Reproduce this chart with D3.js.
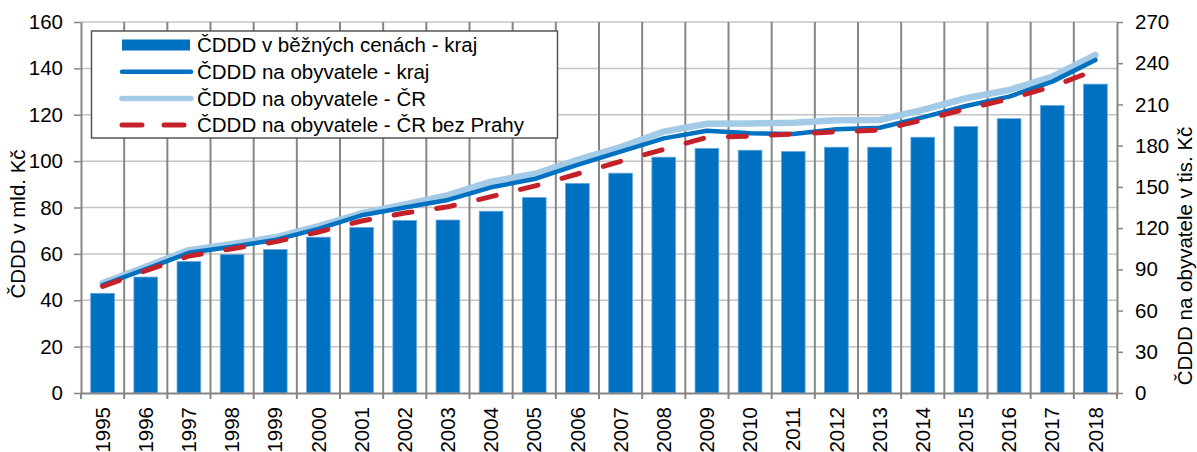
<!DOCTYPE html>
<html>
<head>
<meta charset="utf-8">
<script src="https://cdn.jsdelivr.net/npm/d3@7"></script>
<style>
  body { margin: 0; background: #fff; }
  svg { font-family: "Liberation Sans", Arial, sans-serif; }
</style>
</head>
<body>
<div class="chart"></div>
<script>
const years = [1995, 1996, 1997, 1998, 1999, 2000, 2001, 2002, 2003, 2004, 2005, 2006,
  2007, 2008, 2009, 2010, 2011, 2012, 2013, 2014, 2015, 2016, 2017, 2018];

// ČDDD v běžných cenách - kraj (mld. Kč)
const krajTotal = [43, 50, 56.7, 59.8, 61.9, 67.2, 71.4, 74.4, 74.6, 78.4, 84.3, 90.4,
  94.8, 101.7, 105.5, 104.7, 104.2, 106, 106, 110.3, 114.9, 118.3, 124, 133.2];

// na obyvatele (tis. Kč)
const krajPerCap = [78.6, 90.2, 102, 106.5, 111.4, 119.4, 129.3, 135, 140.5, 149.7, 155.7, 166,
  175.6, 185.3, 190.9, 189, 188.5, 191.9, 193, 200.6, 208.9, 215.7, 226.6, 242.4];
const crPerCap = [80, 91.9, 104, 108.4, 113.3, 121.5, 130.8, 137.3, 144, 153.8, 159.4, 169.6,
  179, 190.2, 196, 196.2, 196.7, 198.5, 198.7, 206, 214.5, 220.5, 230.2, 246];
const crNoPraguePerCap = [77.5, 89, 99.7, 105, 110, 117.2, 125.2, 131, 135.5, 142.9, 150.6, 159.4,
  168.6, 177.3, 186, 187, 188.5, 190, 191.4, 198.7, 206.7, 214, 223, 235];

const leftTicks = [0, 20, 40, 60, 80, 100, 120, 140, 160];
const rightTicks = [0, 30, 60, 90, 120, 150, 180, 210, 240, 270];

const legendLabels = [
  "ČDDD v běžných cenách - kraj",
  "ČDDD na obyvatele - kraj",
  "ČDDD na obyvatele - ČR",
  "ČDDD na obyvatele - ČR bez Prahy"
];

const width = 1197;
const height = 452;
const plot = { left: 81, right: 1117, top: 22, bottom: 393 };
const fontSize = "20.5px";

const barColor = "#0070C0";
const lightColor = "#A3CBE8";
const redColor = "#C4212B";
const axisColor = "#868686";

const svg = d3.select(".chart").append("svg")
  .attr("width", width)
  .attr("height", height);

const xCat = d3.scaleBand().domain(years).range([plot.left, plot.right]).padding(0);
const xBar = d3.scaleBand().domain(years).range([plot.left, plot.right])
  .paddingInner(0.45).paddingOuter(0.225);
const yLeft = d3.scaleLinear().domain([0, 160]).range([plot.bottom, plot.top]);
const yRight = d3.scaleLinear().domain([0, 270]).range([plot.bottom, plot.top]);

// horizontal gridlines
svg.append("g")
  .selectAll("line")
  .data(leftTicks.filter(d => d > 0))
  .enter().append("line")
  .attr("x1", plot.left).attr("x2", plot.right)
  .attr("y1", d => yLeft(d)).attr("y2", d => yLeft(d))
  .attr("stroke", "#c4c4c4")
  .attr("stroke-width", 1.5);

// vertical gridlines between categories
svg.append("g")
  .selectAll("line")
  .data(years.slice(1))
  .enter().append("line")
  .attr("x1", d => xCat(d)).attr("x2", d => xCat(d))
  .attr("y1", plot.top).attr("y2", plot.bottom)
  .attr("stroke", axisColor)
  .attr("stroke-width", 2);

// bars
svg.append("g")
  .selectAll("rect")
  .data(years)
  .enter().append("rect")
  .attr("x", d => xBar(d))
  .attr("width", xBar.bandwidth())
  .attr("y", (d, i) => yLeft(krajTotal[i]))
  .attr("height", (d, i) => yLeft(0) - yLeft(krajTotal[i]))
  .attr("fill", barColor)
  .attr("stroke", "#6aa9dc")
  .attr("stroke-width", 0.8);

const cx = d => xCat(d) + xCat.bandwidth() / 2;
const line = d3.line()
  .x(d => cx(d.year))
  .y(d => yRight(d.value));
const toPoints = arr => years.map((y, i) => ({ year: y, value: arr[i] }));

svg.append("path")
  .attr("d", line(toPoints(crPerCap)))
  .attr("fill", "none")
  .attr("stroke", lightColor)
  .attr("stroke-width", 6.5)
  .attr("stroke-linecap", "round")
  .attr("stroke-linejoin", "round");

svg.append("path")
  .attr("d", line(toPoints(krajPerCap)))
  .attr("fill", "none")
  .attr("stroke", barColor)
  .attr("stroke-width", 4.5)
  .attr("stroke-linecap", "round")
  .attr("stroke-linejoin", "round");

svg.append("path")
  .attr("d", line(toPoints(crNoPraguePerCap)))
  .attr("fill", "none")
  .attr("stroke", redColor)
  .attr("stroke-width", 5)
  .attr("stroke-dasharray", "18,25")
  .attr("stroke-linecap", "round")
  .attr("stroke-linejoin", "round");

// axes
const styleAxis = g => {
  g.select(".domain").attr("stroke", axisColor).attr("stroke-width", 2);
  g.selectAll(".tick line").attr("stroke", axisColor).attr("stroke-width", 1.5);
  g.selectAll("text").attr("fill", "#000").style("font-size", fontSize);
};

svg.append("g")
  .attr("transform", `translate(${plot.left},0)`)
  .call(d3.axisLeft(yLeft).tickValues(leftTicks).tickSize(7).tickPadding(11).tickSizeOuter(0))
  .call(styleAxis);

svg.append("g")
  .attr("transform", `translate(${plot.right},0)`)
  .call(d3.axisRight(yRight).tickValues(rightTicks).tickSize(6).tickPadding(12).tickSizeOuter(0))
  .call(styleAxis);

const xAxis = svg.append("g")
  .attr("transform", `translate(0,${plot.bottom})`)
  .call(d3.axisBottom(xCat).tickSize(0).tickSizeOuter(0))
  .call(styleAxis);
xAxis.selectAll("text")
  .attr("transform", "rotate(-90)")
  .attr("x", -14)
  .attr("y", 0)
  .attr("dy", "0.35em")
  .style("text-anchor", "end");

// boundary ticks on the x axis
svg.append("g")
  .selectAll("line")
  .data(years.map(d => xCat(d)).concat([plot.right]))
  .enter().append("line")
  .attr("x1", d => d).attr("x2", d => d)
  .attr("y1", plot.bottom).attr("y2", plot.bottom + 6)
  .attr("stroke", axisColor)
  .attr("stroke-width", 2);

// axis titles
svg.append("text")
  .attr("transform", `translate(25,224) rotate(-90)`)
  .style("text-anchor", "middle")
  .style("font-size", fontSize)
  .text("ČDDD v mld. Kč");

svg.append("text")
  .attr("transform", `translate(1192,256) rotate(-90)`)
  .style("text-anchor", "middle")
  .style("font-size", fontSize)
  .text("ČDDD na obyvatele v tis. Kč");

// legend
const legend = svg.append("g");
legend.append("rect")
  .attr("x", 91.5).attr("y", 31)
  .attr("width", 466).attr("height", 107)
  .attr("fill", "#fff")
  .attr("stroke", "#555")
  .attr("stroke-width", 1.5);

const rowY = i => 45 + i * 26.7;
legend.append("rect")
  .attr("x", 122).attr("y", rowY(0) - 5.5)
  .attr("width", 68).attr("height", 11)
  .attr("fill", barColor);
legend.append("line")
  .attr("x1", 122).attr("x2", 191).attr("y1", rowY(1)).attr("y2", rowY(1))
  .attr("stroke", barColor).attr("stroke-width", 4.5).attr("stroke-linecap", "round");
legend.append("line")
  .attr("x1", 122).attr("x2", 191).attr("y1", rowY(2)).attr("y2", rowY(2))
  .attr("stroke", lightColor).attr("stroke-width", 5.5).attr("stroke-linecap", "round");
legend.append("line")
  .attr("x1", 122).attr("x2", 191).attr("y1", rowY(3)).attr("y2", rowY(3))
  .attr("stroke", redColor).attr("stroke-width", 5).attr("stroke-linecap", "round")
  .attr("stroke-dasharray", "20,22");

legend.selectAll("text")
  .data(legendLabels)
  .enter().append("text")
  .attr("x", 197)
  .attr("y", (d, i) => rowY(i))
  .attr("dy", "0.35em")
  .style("font-size", fontSize)
  .text(d => d);
</script>
</body>
</html>
